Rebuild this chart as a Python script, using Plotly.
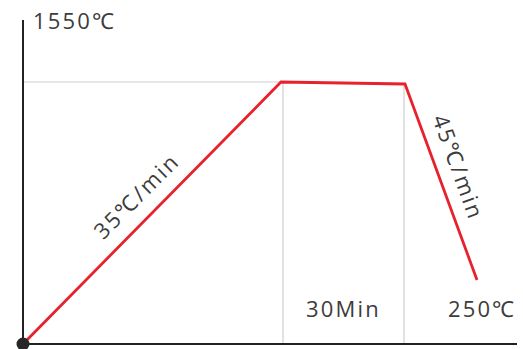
import plotly.graph_objects as go

# Schematic firing curve (chart units: arbitrary schematic time / temperature scale)
times = [0, 258, 382, 454]
temps = [0, 262, 260, 64]
axis_x_end = 494
axis_y_end = 324
peak_label = "1550℃"
ramp_up_label = "35℃/min"
ramp_down_label = "45℃/min"
hold_label = "30Min"
end_label = "250℃"

font_family = "Open Sans"
text_color = "#3c3c3c"
HAIR = "\u200a"


def spaced(s):
    return HAIR.join(s)


fig = go.Figure()

# grey guide lines
fig.add_trace(go.Scatter(x=[0, times[1]], y=[temps[1], temps[1]], mode="lines",
                         line=dict(color="#cfcfcf", width=1.2), hoverinfo="skip"))
fig.add_trace(go.Scatter(x=[times[1] + 2, times[1] + 2], y=[0, temps[1]], mode="lines",
                         line=dict(color="#cfcfcf", width=1.2), hoverinfo="skip"))
fig.add_trace(go.Scatter(x=[times[2] - 1, times[2] - 1], y=[0, temps[2]], mode="lines",
                         line=dict(color="#cfcfcf", width=1.2), hoverinfo="skip"))

# axes
fig.add_trace(go.Scatter(x=[0, 0], y=[0, axis_y_end], mode="lines",
                         line=dict(color="#222222", width=2), hoverinfo="skip"))
fig.add_trace(go.Scatter(x=[0, axis_x_end], y=[0, 0], mode="lines",
                         line=dict(color="#222222", width=2), hoverinfo="skip"))

# firing curve
fig.add_trace(go.Scatter(x=times, y=temps, mode="lines",
                         line=dict(color="#e8222c", width=2.8), hoverinfo="skip"))

# origin dot
fig.add_trace(go.Scatter(x=[0], y=[0], mode="markers",
                         marker=dict(color="#262626", size=13), hoverinfo="skip"))

fnt = dict(family=font_family, size=22, color=text_color)
fig.add_annotation(x=8, y=324, text=spaced(peak_label), showarrow=False, xanchor="left",
                   yanchor="middle", font=fnt)
fig.add_annotation(x=112, y=148, text=spaced(ramp_up_label), showarrow=False, textangle=-45,
                   font=fnt)
fig.add_annotation(x=436, y=178, text=spaced(ramp_down_label), showarrow=False, textangle=70,
                   font=fnt)
fig.add_annotation(x=319, y=36, text=spaced(hold_label), showarrow=False, font=fnt)
fig.add_annotation(x=458, y=36, text=spaced(end_label), showarrow=False, font=fnt)

fig.update_layout(
    width=523, height=349,
    margin=dict(l=0, r=0, t=0, b=0),
    paper_bgcolor="white", plot_bgcolor="white",
    showlegend=False,
    xaxis=dict(range=[-23, 500], visible=False, fixedrange=True),
    yaxis=dict(range=[-5, 344], visible=False, fixedrange=True),
)

fig.write_html("out.html", config={"displayModeBar": False},
               post_script="document.body.style.margin='0';document.body.style.overflow='hidden';")
